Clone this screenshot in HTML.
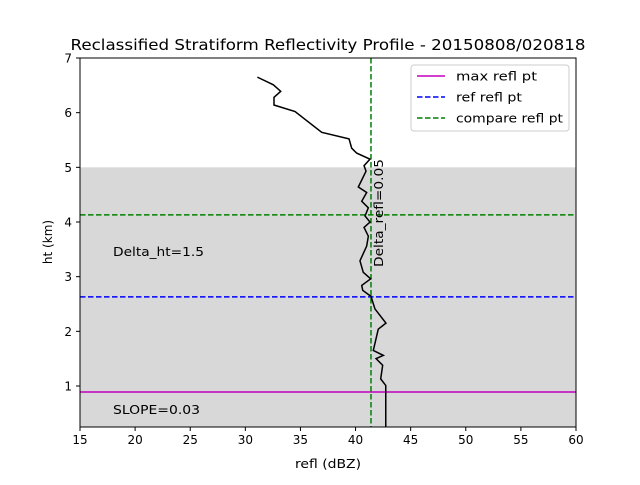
<!DOCTYPE html>
<html><head><meta charset="utf-8"><style>body{margin:0;background:#fff}svg{font-family:"DejaVu Sans","Liberation Sans",sans-serif}</style></head>
<body>
<svg id="c" width="640" height="480" xmlns="http://www.w3.org/2000/svg"></svg>
<script>
const reflValues=[31.09,32.54,33.21,32.60,32.60,34.51,36.93,39.41,39.65,40.10,41.31,40.77,40.95,40.25,41.01,40.56,41.16,40.86,41.31,40.77,41.16,41.01,40.40,40.70,41.37,40.56,40.65,41.40,41.76,42.76,42.06,41.61,42.52,41.86,42.46,42.28,42.74,42.74];
const htValues=[6.65,6.51,6.39,6.28,6.14,6.02,5.64,5.52,5.35,5.26,5.15,5.03,4.93,4.64,4.54,4.38,4.26,4.11,4.00,3.90,3.74,3.56,3.29,3.08,2.96,2.84,2.75,2.64,2.41,2.15,2.04,1.65,1.56,1.50,1.38,1.13,1.01,0.25];
const xTicks=[15,20,25,30,35,40,45,50,55,60];
const yTicks=[1,2,3,4,5,6,7];
const maxReflHt=0.89, refReflHt=2.63, compareReflHt=4.13, compareRefl=41.4, bandTop=5;
const X0=80,X1=576,Y0=58,Y1=427,xmin=15,xmax=60,ymin=0.25,ymax=7;
const sx=v=>X0+(v-xmin)/(xmax-xmin)*(X1-X0);
const sy=v=>Y1-(v-ymin)/(ymax-ymin)*(Y1-Y0);
const svg=document.getElementById('c');const NS='http://www.w3.org/2000/svg';
function mk(t,a,txt){const e=document.createElementNS(NS,t);for(const k in a)e.setAttribute(k,a[k]);if(txt!==undefined)e.textContent=txt;svg.appendChild(e);return e;}
let e;
e=mk('rect',{x:X0,y:sy(bandTop),width:X1-X0,height:Y1-sy(bandTop),fill:'#d8d8d8'});


e=mk('line',{x1:X0,x2:X1,y1:sy(maxReflHt),y2:sy(maxReflHt),stroke:'#bf00bf','stroke-width':1.5});


e=mk('line',{x1:X0,x2:X1,y1:sy(refReflHt),y2:sy(refReflHt),stroke:'#0000ff','stroke-width':1.5,'stroke-dasharray':'5.5,2.5'});


e=mk('line',{x1:X0,x2:X1,y1:sy(compareReflHt),y2:sy(compareReflHt),stroke:'#008000','stroke-width':1.5,'stroke-dasharray':'5.5,2.5'});


e=mk('line',{x1:sx(compareRefl),x2:sx(compareRefl),y1:Y0,y2:Y1,stroke:'#008000','stroke-width':1.5,'stroke-dasharray':'5.5,2.5'});


e=mk('polyline',{points:reflValues.map((v,i)=>sx(v)+','+sy(htValues[i])).join(' '),fill:'none',stroke:'#000','stroke-width':1.5});


e=mk('rect',{x:X0,y:Y0,width:X1-X0,height:Y1-Y0,fill:'none',stroke:'#000','stroke-width':1});


xTicks.forEach(t=>{mk('line',{x1:sx(t),x2:sx(t),y1:Y1,y2:Y1+4,stroke:'#000'});
e=mk('text',{x:sx(t),y:Y1+17,'text-anchor':'middle','font-size':12},t);

});
yTicks.forEach(t=>{mk('line',{x1:X0-4,x2:X0,y1:sy(t),y2:sy(t),stroke:'#000'});
e=mk('text',{x:X0-8,y:sy(t)+4.5,'text-anchor':'end','font-size':12},t);

});
e=mk('text',{x:328,y:468,'text-anchor':'middle','font-size':12,textLength:66,lengthAdjust:'spacingAndGlyphs'},'refl (dBZ)');


e=mk('text',{x:0,y:0,'text-anchor':'middle','font-size':12,transform:'translate(52,242) rotate(-90)'},'ht (km)');


e=mk('text',{x:328,y:50,'text-anchor':'middle','font-size':15,textLength:515,lengthAdjust:'spacingAndGlyphs'},'Reclassified Stratiform Reflectivity Profile - 20150808/020818');


e=mk('text',{x:113,y:256,'font-size':12.5,textLength:91,lengthAdjust:'spacingAndGlyphs'},'Delta_ht=1.5');


e=mk('text',{x:113,y:414,'font-size':12.5,textLength:87,lengthAdjust:'spacingAndGlyphs'},'SLOPE=0.03');


e=mk('text',{x:0,y:0,'text-anchor':'middle','font-size':12.5,textLength:108,lengthAdjust:'spacingAndGlyphs',transform:'translate(383,213) rotate(-90)'},'Delta_refl=0.05');


e=mk('rect',{x:411,y:65,width:158,height:66,rx:3,fill:'#fff','fill-opacity':0.8,stroke:'#ccc'});


[['max refl pt','#bf00bf','',81],['ref refl pt','#0000ff','5.5,2.5',66],['compare refl pt','#008000','5.5,2.5',107]].forEach((l,i)=>{const y=76+i*21;
mk('line',{x1:417,x2:445,y1:y,y2:y,stroke:l[1],'stroke-width':1.5,'stroke-dasharray':l[2]||'none'});
e=mk('text',{x:456,y:y+4.5,'font-size':12.5,textLength:l[3],lengthAdjust:'spacingAndGlyphs'},l[0]);

});
</script>
</body></html>
